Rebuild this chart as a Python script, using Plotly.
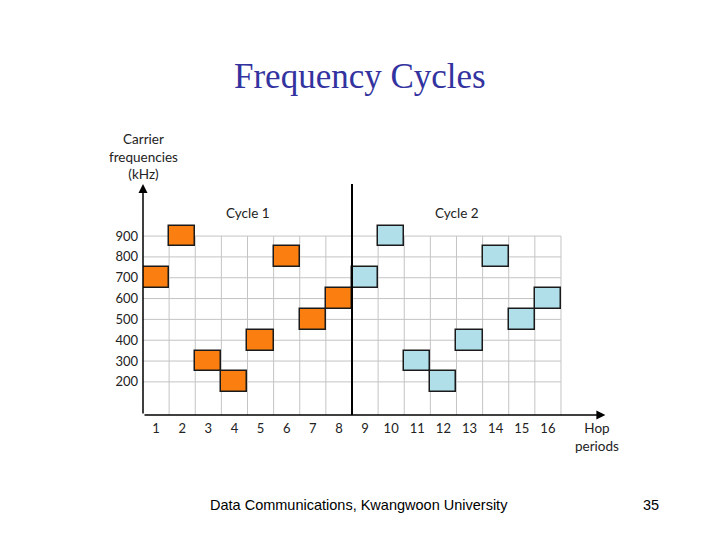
import plotly.graph_objects as go

# ---- data ----
hops = list(range(1, 17))
freqs_khz = [700, 900, 300, 200, 400, 800, 500, 600,
             700, 900, 300, 200, 400, 800, 500, 600]
cycle_of_hop = [1] * 8 + [2] * 8
freq_ticks = [200, 300, 400, 500, 600, 700, 800, 900]
hop_labels = [str(h) for h in hops]
cycle_names = ["Cycle 1", "Cycle 2"]
band_khz = 100

# ---- layout geometry ----
W, H = 720, 540
OFF = 8  # page body margin
# plot area in page pixels
PL, PR, PT, PB = 143, 608, 184, 415
L, R, T, B = PL - OFF, PR - OFF, PT - OFF, PB - OFF
X_RANGE = [0.5, 18.3]
Y_RANGE = [41, 1150]


def px_x(x):
    return (x - PL) / (PR - PL)


def px_y(y):
    return (PB - y) / (PB - PT)


ORANGE = "#FA7F10"
BLUE = "#B0DFEA"
EDGE = "#1a1a1a"
GRID = "#C4C4C4"
FONT = "Lato"

fig = go.Figure()

for cyc, color in [(1, ORANGE), (2, BLUE)]:
    xs = [h for h, c in zip(hops, cycle_of_hop) if c == cyc]
    fs = [f for f, c in zip(freqs_khz, cycle_of_hop) if c == cyc]
    fig.add_trace(go.Bar(
        x=xs, y=[band_khz] * len(xs), base=[f - band_khz / 2 for f in fs],
        width=1, marker=dict(color=color, line=dict(color=EDGE, width=1.5)),
        hoverinfo="skip", showlegend=False,
    ))

shapes = []
x_lo, x_hi = hops[0] - 0.5, hops[-1] + 0.5
# horizontal grid
for f in freq_ticks:
    shapes.append(dict(type="line", xref="x", yref="y", x0=x_lo, x1=x_hi,
                       y0=f, y1=f, line=dict(color=GRID, width=1), layer="below"))
# vertical grid
for h in hops:
    shapes.append(dict(type="line", xref="x", yref="y", x0=h + 0.5, x1=h + 0.5,
                       y0=Y_RANGE[0], y1=max(freq_ticks),
                       line=dict(color=GRID, width=1), layer="below"))
# cycle divider
div_x = hops[7] + 0.5
shapes.append(dict(type="line", xref="x", yref="y", x0=div_x, x1=div_x,
                   y0=Y_RANGE[0], y1=Y_RANGE[1] + 5,
                   line=dict(color="black", width=2), layer="above"))


def label(x, y, text, family=FONT, size=13, color="#222"):
    return dict(x=px_x(x), y=px_y(y), xref="paper", yref="paper", text=text,
                showarrow=False, xanchor="center", yanchor="middle",
                align="center", font=dict(family=family, size=size, color=color))


annotations = [
    # x axis arrow
    dict(x=18.2, y=Y_RANGE[0], ax=X_RANGE[0], ay=Y_RANGE[0], xref="x", yref="y",
         axref="x", ayref="y", text="", showarrow=True, arrowhead=2,
         arrowsize=1.2, arrowwidth=1.5, arrowcolor="black"),
    # y axis arrow
    dict(x=X_RANGE[0], y=Y_RANGE[1], ax=X_RANGE[0], ay=Y_RANGE[0], xref="x", yref="y",
         axref="x", ayref="y", text="", showarrow=True, arrowhead=2,
         arrowsize=1.2, arrowwidth=1.5, arrowcolor="black"),
    label(143, 156, "Carrier<br>frequencies<br>(kHz)", size=13.5),
    label(597, 437, "Hop<br>periods", size=13.5),
    label(248, 213, cycle_names[0], size=13.5),
    label(457, 213, cycle_names[1], size=13.5),
    label(360, 76, "Frequency Cycles", family="Liberation Serif", size=35, color="#3333A0"),
    label(359, 505, "Data Communications, Kwangwoon University",
          family="Liberation Sans", size=14.5, color="black"),
    label(651, 505, "35", family="Liberation Sans", size=14.5, color="black"),
]

fig.update_layout(
    width=W, height=H,
    margin=dict(l=L, r=W - R, t=T, b=H - B, pad=0, autoexpand=False),
    paper_bgcolor="white", plot_bgcolor="white",
    barmode="overlay", bargap=0,
    shapes=shapes, annotations=annotations,
    showlegend=False,
    xaxis=dict(range=X_RANGE, tickvals=hops, ticktext=hop_labels,
               showgrid=False, zeroline=False, showline=False, ticks="",
               automargin=False, ticklabelstandoff=4,
               tickfont=dict(family=FONT, size=13, color="#222"), fixedrange=True),
    yaxis=dict(range=Y_RANGE, tickvals=freq_ticks,
               ticktext=[str(f) for f in freq_ticks],
               showgrid=False, zeroline=False, showline=False, ticks="",
               automargin=False, ticklabelstandoff=4,
               tickfont=dict(family=FONT, size=13, color="#222"), fixedrange=True),
)

fig.write_html("out.html")
